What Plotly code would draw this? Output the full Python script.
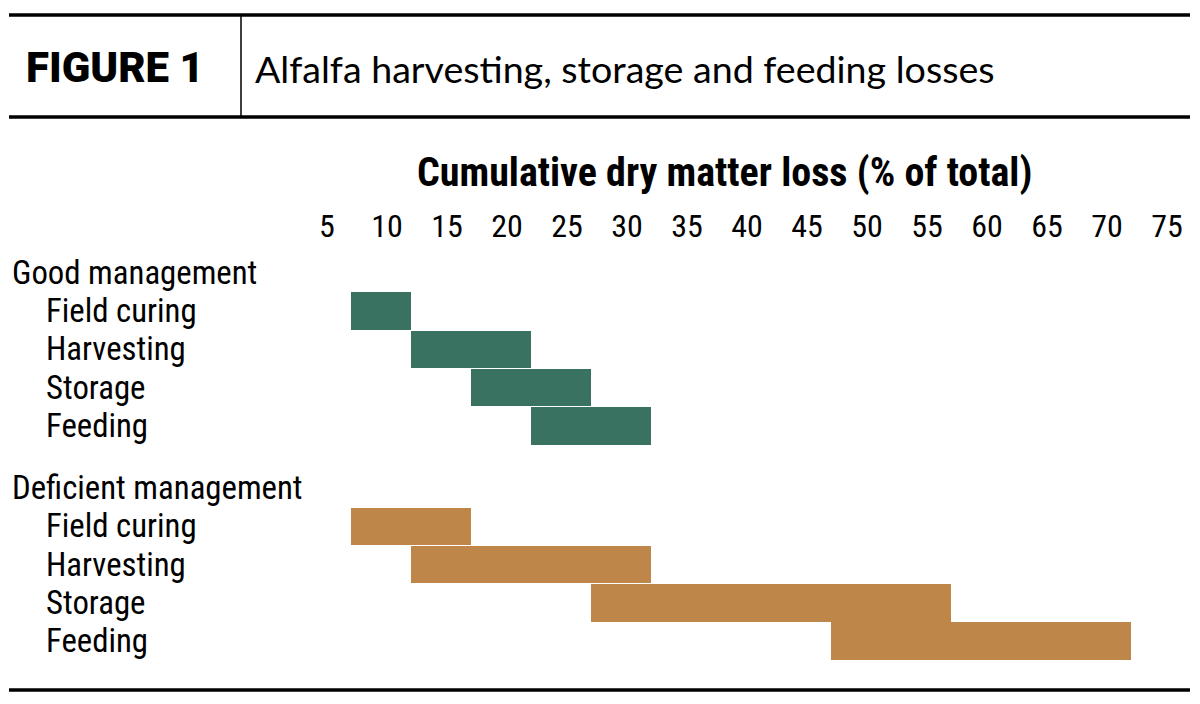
import plotly.graph_objects as go

# ---- data ----
stages = ["Field curing", "Harvesting", "Storage", "Feeding"]
groups = ["Good management", "Deficient management"]
good_start = [7, 12, 17, 22]
good_end = [12, 22, 27, 32]
deficient_start = [7, 12, 27, 47]
deficient_end = [17, 32, 57, 72]
tick_values = [5, 10, 15, 20, 25, 30, 35, 40, 45, 50, 55, 60, 65, 70, 75]

axis_title = "Cumulative dry matter loss (% of total)"
fig_label = "FIGURE 1"
fig_title = "Alfalfa harvesting, storage and feeding losses"

GREEN = "#3a7262"
ORANGE = "#bf8649"

# row positions (row units)
good_pos = [1, 2, 3, 4]
def_offset = 2.633
deficient_pos = [4 + def_offset + i for i in range(4)]
header_pos = [0, deficient_pos[0] - 1]

W, H = 1200, 704
ML, MR = 327, 33
PT, PB = 250, 670  # plot area pixel top/bottom
row_px = 38.2
y_top = header_pos[0] - (273 - PT) / row_px
y_bot = deficient_pos[-1] + (PB - 641) / row_px

def py(pix):
    return (PB - pix) / (PB - PT)

def px(pix):
    return (pix - ML) / (W - ML - MR)

fig = go.Figure()
fig.add_trace(go.Bar(
    orientation="h", y=good_pos,
    x=[e - s for s, e in zip(good_start, good_end)], base=good_start,
    width=0.985, marker=dict(color=GREEN, line=dict(width=0)),
    hoverinfo="skip", showlegend=False))
fig.add_trace(go.Bar(
    orientation="h", y=deficient_pos,
    x=[e - s for s, e in zip(deficient_start, deficient_end)], base=deficient_start,
    width=0.985, marker=dict(color=ORANGE, line=dict(width=0)),
    hoverinfo="skip", showlegend=False))

LAB_FONT = "Roboto Condensed, Liberation Sans, sans-serif"
ann = []
for g, yp in zip(groups, header_pos):
    ann.append(dict(text=g, x=px(10), xref="paper", y=yp, yref="y",
                    xanchor="left", yanchor="middle", showarrow=False,
                    font=dict(family=LAB_FONT, size=32.8, color="black")))
for yl in (good_pos, deficient_pos):
    for s, yp in zip(stages, yl):
        ann.append(dict(text=s, x=px(44), xref="paper", y=yp, yref="y",
                        xanchor="left", yanchor="middle", showarrow=False,
                        font=dict(family=LAB_FONT, size=32.8, color="black")))
ann.append(dict(text=axis_title, x=px(724), xref="paper",
                y=py(172), yref="paper", xanchor="center", yanchor="middle",
                showarrow=False,
                font=dict(family=LAB_FONT, size=40, color="black", weight=700)))
ann.append(dict(text=fig_label, x=px(24), xref="paper", y=py(67), yref="paper",
                xanchor="left", yanchor="middle", showarrow=False,
                font=dict(family="Roboto, DejaVu Sans, sans-serif", size=42,
                          color="black", weight=900)))
ann.append(dict(text=fig_title, x=px(253), xref="paper", y=py(68), yref="paper",
                xanchor="left", yanchor="middle", showarrow=False,
                font=dict(family="Lato, Open Sans, sans-serif", size=37.6,
                          color="black")))

shapes = [
    dict(type="line", xref="paper", yref="paper", x0=px(9), x1=px(1190),
         y0=py(15), y1=py(15), line=dict(color="black", width=3.5)),
    dict(type="line", xref="paper", yref="paper", x0=px(9), x1=px(1190),
         y0=py(117), y1=py(117), line=dict(color="black", width=3.5)),
    dict(type="line", xref="paper", yref="paper", x0=px(241), x1=px(241),
         y0=py(15), y1=py(117), line=dict(color="black", width=1.5)),
    dict(type="line", xref="paper", yref="paper", x0=px(9), x1=px(1190),
         y0=py(690), y1=py(690), line=dict(color="black", width=3.5)),
]

fig.update_layout(
    width=W, height=H, autosize=False,
    margin=dict(l=ML, r=MR, t=PT, b=H - PB, pad=0),
    paper_bgcolor="white", plot_bgcolor="white",
    bargap=0, barmode="overlay",
    xaxis=dict(range=[5, 75], side="top", tickmode="array",
               tickvals=tick_values, ticktext=[str(v) for v in tick_values],
               showgrid=False, zeroline=False, showline=False, ticks="",
               ticklabelstandoff=6,
               tickfont=dict(family=LAB_FONT, size=32, color="black"),
               fixedrange=True),
    yaxis=dict(range=[y_bot, y_top], showticklabels=False, showgrid=False,
               zeroline=False, showline=False, ticks="", fixedrange=True),
    annotations=ann, shapes=shapes,
)

fig.write_html("out.html", config={"displayModeBar": False},
               post_script="document.body.style.margin='0';")
